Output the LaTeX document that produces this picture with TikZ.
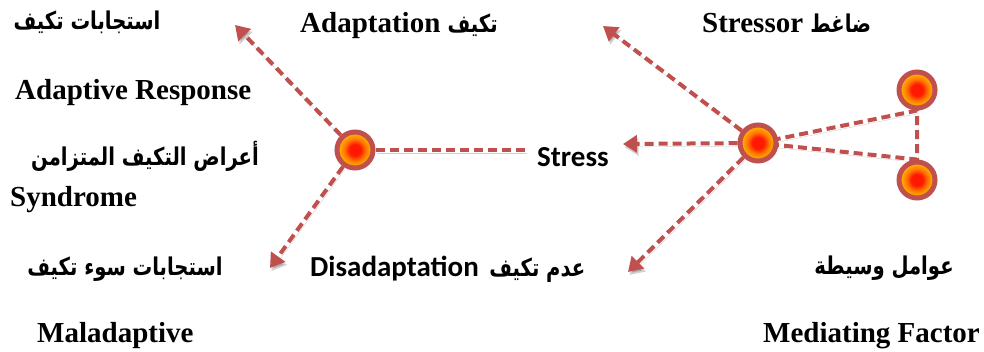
\documentclass[tikz,border=0pt]{standalone}
\usepackage{fontspec}
\setmainfont{Liberation Serif}
\newfontfamily\arabicfont[Script=Arabic,FakeStretch=0.8]{DejaVu Sans}
\newfontfamily\calibfont{Carlito}
\TeXXeTstate=1
\usetikzlibrary{arrows.meta,backgrounds}

\definecolor{linered}{RGB}{192,80,77}
\definecolor{hubcore}{RGB}{255,25,0}
\definecolor{hubmid}{RGB}{255,120,0}
\definecolor{hubedge}{RGB}{255,196,0}

% red core fading through orange to a golden rim
\pgfdeclareradialshading{hubshade}{\pgfpointorigin}{%
  color(0bp)=(hubcore); color(8bp)=(hubcore); color(15bp)=(hubmid);
  color(25bp)=(hubedge); color(50bp)=(hubedge)}

\tikzset{
  link/.style={draw=linered, line width=4pt, dash pattern=on 9pt off 5pt,
    preaction={draw=black, opacity=0.18, transform canvas={shift={(1.5pt,-3pt)}}}},
  arrowlink/.style={link, -{Triangle[length=14pt,width=17pt]}},
  hub/.style={circle, minimum size=36pt, inner sep=0pt, draw=linered,
    line width=5pt, shading=hubshade},
  entext/.style={font=\fontsize{29}{34}\selectfont\bfseries, inner sep=0pt, anchor=base west},
  sanstext/.style={font=\calibfont\fontsize{29}{34}\selectfont\bfseries, inner sep=0pt, anchor=base west},
  artext/.style={font=\arabicfont\fontsize{24.5}{30}\selectfont\bfseries, inner sep=0pt, anchor=base},
}
\newcommand{\ar}[1]{{\arabicfont\fontsize{24.5}{30}\selectfont\beginR #1\endR}}

\begin{document}
\begin{tikzpicture}[x=1pt,y=-1pt]
\useasboundingbox (0,0) rectangle (984,352);

% hubs
\node[hub] (left) at (355,150) {};
\node[hub] (mid) at (758,143) {};
\node[hub] (top) at (917,90) {};
\node[hub] (bot) at (917,180) {};

% arrow targets
\coordinate (toStressor) at (603,26);
\coordinate (toStress) at (623,144);
\coordinate (toDis) at (628,272);
\coordinate (toAdapt) at (235,25);
\coordinate (toMal) at (270,268);
\coordinate (lineEnd) at (525,150);

\begin{pgfonlayer}{background}
  \draw[link] (mid.center) -- (top.south) -- (bot.north) -- cycle;
  \draw[arrowlink] (mid) -- (toStressor);
  \draw[arrowlink] (mid) -- (toStress);
  \draw[arrowlink] (mid) -- (toDis);
  \draw[arrowlink] (left) -- (toAdapt);
  \draw[arrowlink] (left) -- (toMal);
  \draw[link] (left) -- (lineEnd);
\end{pgfonlayer}

% labels
\node[artext] (adResAr) at (87,30) {\ar{استجابات تكيف}};
\node[entext] (adaptation) at (300,33) {Adaptation \ar{تكيف}};
\node[entext] (stressor) at (702,33) {Stressor \ar{ضاغط}};
\node[entext] (adRes) at (15,100) {Adaptive Response};
\node[artext] (syndAr) at (145,166) {\ar{أعراض التكيف المتزامن}};
\node[entext] (synd) at (10,207) {Syndrome};
\node[sanstext] (stress) at (537,167) {Stress};
\node[artext] (malAr) at (125,276) {\ar{استجابات سوء تكيف}};
\node[sanstext] (disadapt) at (310,277) {Disadaptation\hspace{4pt} \ar{عدم تكيف}};
\node[artext] (medAr) at (884,275) {\ar{عوامل وسيطة}};
\node[entext] (mal) at (37,342) {Maladaptive};
\node[entext] (med) at (763,342) {Mediating Factor};
\end{tikzpicture}
\end{document}
